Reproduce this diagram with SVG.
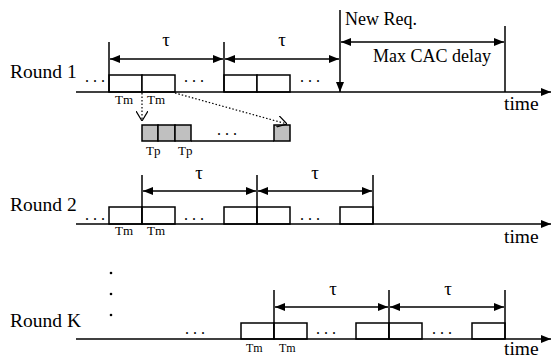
<svg xmlns="http://www.w3.org/2000/svg" width="555" height="360" viewBox="0 0 555 360">
<style>
text{font-family:"Liberation Serif","Times New Roman",serif;fill:#000}
.lbl{font-size:19.5px}
.t{font-size:18px}
.tau{font-size:19px;text-anchor:middle}
.sm{font-size:13px}
.dots{font-size:16px}
.ln{stroke:#000;stroke-width:1.5;fill:none}
.box{stroke:#000;stroke-width:1.5;fill:#fff}
.gbox{stroke:#000;stroke-width:1.5;fill:#c0c0c0}
.dash{stroke:#000;stroke-width:1.2;stroke-dasharray:1.5 2;fill:none}
</style>
<defs>
<marker id="ah" viewBox="0 0 10 8" refX="10" refY="4" markerWidth="10" markerHeight="8" markerUnits="userSpaceOnUse" orient="auto-start-reverse">
<path d="M0,0 L10,4 L0,8 Z" fill="#000"/>
</marker>
<marker id="open" viewBox="0 0 10 12" refX="10" refY="6" markerWidth="10" markerHeight="12" markerUnits="userSpaceOnUse" orient="auto">
<path d="M0,0 L10,6 L0,12" fill="none" stroke="#000" stroke-width="1.2"/>
</marker>
</defs>

<g id="round1">
<text class="lbl" x="10" y="78">Round 1</text>
<text class="dots" x="85" y="82">. . .</text>
<rect class="box" x="109" y="75" width="33" height="17"/>
<rect class="box" x="142" y="75" width="33" height="17"/>
<text class="dots" x="184" y="82">. . .</text>
<rect class="box" x="224" y="75" width="33" height="17"/>
<rect class="box" x="257" y="75" width="33" height="17"/>
<text class="dots" x="300" y="82">. . .</text>
<text class="sm" x="115" y="104">Tm</text>
<text class="sm" x="147" y="104">Tm</text>
<text class="tau" x="166" y="46">τ</text>
<text class="tau" x="282" y="46">τ</text>
<text class="t" x="345" y="25">New Req.</text>
<text class="t" x="373" y="62">Max CAC delay</text>
<text class="lbl" x="504" y="110">time</text>
</g>

<g id="zoom">
<rect class="gbox" x="142" y="125" width="16" height="16"/>
<rect class="gbox" x="158" y="125" width="17" height="16"/>
<rect class="gbox" x="175" y="125" width="16" height="16"/>
<rect class="gbox" x="274" y="125" width="16" height="16"/>
<line class="ln" x1="191" y1="141" x2="274" y2="141"/>
<text class="dots" x="217" y="135">. . .</text>
<text class="sm" x="146" y="155">Tp</text>
<text class="sm" x="178" y="155">Tp</text>
</g>

<g id="round2">
<text class="lbl" x="10" y="211">Round 2</text>
<text class="dots" x="85" y="220">. . .</text>
<rect class="box" x="109" y="207" width="33" height="17"/>
<rect class="box" x="142" y="207" width="33" height="17"/>
<text class="dots" x="184" y="220">. . .</text>
<rect class="box" x="224" y="207" width="33" height="17"/>
<rect class="box" x="257" y="207" width="33" height="17"/>
<text class="dots" x="300" y="220">. . .</text>
<rect class="box" x="340" y="207" width="33" height="17"/>
<text class="sm" x="115" y="235">Tm</text>
<text class="sm" x="147" y="235">Tm</text>
<text class="tau" x="199" y="179">τ</text>
<text class="tau" x="315" y="179">τ</text>
<text class="lbl" x="504" y="243">time</text>
</g>

<g id="roundK">
<circle cx="111" cy="273" r="1.3" fill="#000"/>
<circle cx="111" cy="294" r="1.3" fill="#000"/>
<circle cx="111" cy="315" r="1.3" fill="#000"/>
<text class="lbl" x="10" y="327">Round K</text>
<text class="dots" x="185" y="334">. . .</text>
<rect class="box" x="241" y="323" width="33" height="16"/>
<rect class="box" x="274" y="323" width="33" height="16"/>
<text class="dots" x="316" y="334">. . .</text>
<rect class="box" x="356" y="323" width="33" height="16"/>
<rect class="box" x="389" y="323" width="33" height="16"/>
<text class="dots" x="432" y="334">. . .</text>
<rect class="box" x="472" y="323" width="33" height="16"/>
<text class="sm" x="246" y="352" style="font-size:12px">Tm</text>
<text class="sm" x="279" y="352" style="font-size:12px">Tm</text>
<text class="tau" x="333" y="295">τ</text>
<text class="tau" x="448" y="295">τ</text>
<text class="lbl" x="504" y="355">time</text>
</g>

<g id="connectors">
<line class="ln" x1="76" y1="92" x2="551" y2="92" marker-end="url(#ah)"/>
<line class="ln" x1="76" y1="224" x2="551" y2="224" marker-end="url(#ah)"/>
<line class="ln" x1="76" y1="339" x2="551" y2="339" marker-end="url(#ah)"/>
<line class="ln" x1="109" y1="42" x2="109" y2="92"/>
<line class="ln" x1="224" y1="42" x2="224" y2="92"/>
<line class="ln" x1="110" y1="59" x2="223" y2="59" marker-start="url(#ah)" marker-end="url(#ah)"/>
<line class="ln" x1="225" y1="59" x2="339" y2="59" marker-start="url(#ah)" marker-end="url(#ah)"/>
<line class="ln" x1="340" y1="10" x2="340" y2="92" marker-end="url(#ah)"/>
<line class="ln" x1="505" y1="26" x2="505" y2="92"/>
<line class="ln" x1="341" y1="42" x2="504" y2="42" marker-start="url(#ah)" marker-end="url(#ah)"/>
<line class="dash" x1="142" y1="93" x2="142" y2="121" marker-end="url(#open)"/>
<line class="dash" x1="175" y1="93" x2="287" y2="124" marker-end="url(#open)"/>
<line class="ln" x1="142" y1="175" x2="142" y2="224"/>
<line class="ln" x1="257" y1="175" x2="257" y2="224"/>
<line class="ln" x1="373" y1="175" x2="373" y2="224"/>
<line class="ln" x1="143" y1="191" x2="256" y2="191" marker-start="url(#ah)" marker-end="url(#ah)"/>
<line class="ln" x1="258" y1="191" x2="372" y2="191" marker-start="url(#ah)" marker-end="url(#ah)"/>
<line class="ln" x1="274" y1="290" x2="274" y2="339"/>
<line class="ln" x1="389" y1="290" x2="389" y2="339"/>
<line class="ln" x1="505" y1="290" x2="505" y2="339"/>
<line class="ln" x1="275" y1="307" x2="388" y2="307" marker-start="url(#ah)" marker-end="url(#ah)"/>
<line class="ln" x1="390" y1="307" x2="504" y2="307" marker-start="url(#ah)" marker-end="url(#ah)"/>
</g>
</svg>
